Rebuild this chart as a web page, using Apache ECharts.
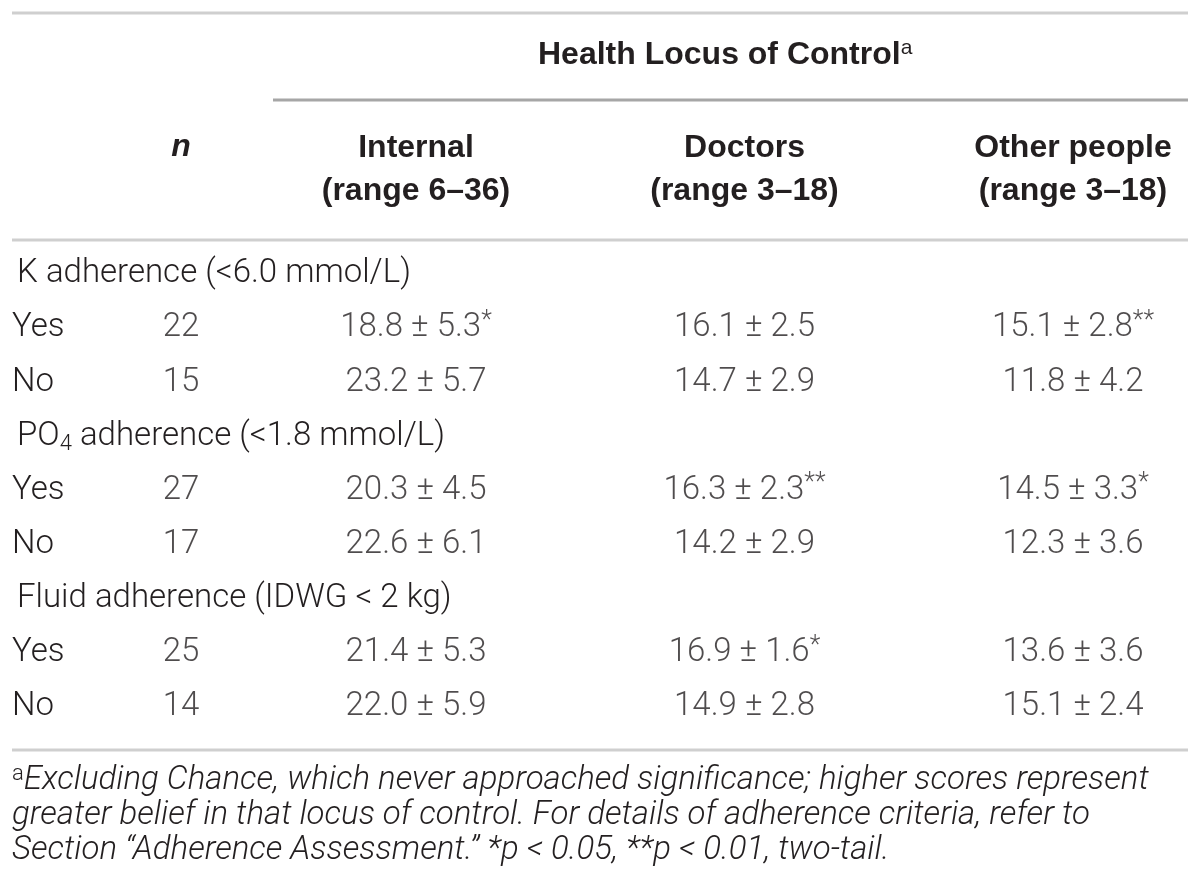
<!DOCTYPE html>
<html>
<head>
<meta charset="utf-8">
<title>Health Locus of Control by adherence</title>
<script src="https://cdn.jsdelivr.net/npm/echarts@6/dist/echarts.min.js"></script>
<style>
html,body{margin:0;padding:0;background:#fff;}
#chart{width:1200px;height:894px;}
</style>
</head>
<body>
<div id="chart"></div>
<script>
// row layout: section heading, then Yes / No for each adherence measure
var sections=['K adherence (<6.0 mmol/L)','PO4 adherence (<1.8 mmol/L)','Fluid adherence (IDWG < 2 kg)'];
var answers=['Yes','No'];
var columns=['Internal\n(range 6–36)','Doctors\n(range 3–18)','Other people\n(range 3–18)'];
// one entry per Yes/No row, in table order
var nCount=[22,15,27,17,25,14];
var internalMean=[18.8,23.2,20.3,22.6,21.4,22.0];
var internalSd=[5.3,5.7,4.5,6.1,5.3,5.9];
var internalSig=['*','','','','',''];
var doctorsMean=[16.1,14.7,16.3,14.2,16.9,14.9];
var doctorsSd=[2.5,2.9,2.3,2.9,1.6,2.8];
var doctorsSig=['','','**','','*',''];
var otherMean=[15.1,11.8,14.5,12.3,13.6,15.1];
var otherSd=[2.8,4.2,3.3,3.6,3.6,2.4];
var otherSig=['**','','*','','',''];

var BODY='Roboto';
var HEAD='Liberation Sans';
var INK='#231f20';

// y categories: 9 rows
var rowIds=[], rowLabels=[], dataRow=[];
for(var s=0;s<sections.length;s++){
    rowIds.push('sec'+s); rowLabels.push({sec:true,text:sections[s]});
    for(var a=0;a<answers.length;a++){
        rowIds.push('r'+s+a); rowLabels.push({sec:false,text:answers[a]});
        dataRow.push(rowIds.length-1);
    }
}

function cell(m,sd,sig){
    var t='{v|'+m.toFixed(1)+' ± '+sd.toFixed(1)+'}';
    if(sig) t+='{s|'+sig+'}';
    return t;
}
var nData=[], hlcData=[];
for(var i=0;i<dataRow.length;i++){
    nData.push({value:[0,dataRow[i]],txt:'{v|'+nCount[i]+'}'});
    hlcData.push({value:[0,dataRow[i]],txt:cell(internalMean[i],internalSd[i],internalSig[i])});
    hlcData.push({value:[1,dataRow[i]],txt:cell(doctorsMean[i],doctorsSd[i],doctorsSig[i])});
    hlcData.push({value:[2,dataRow[i]],txt:cell(otherMean[i],otherSd[i],otherSig[i])});
}

var cellRich={
    v:{fontFamily:BODY,fontWeight:300,fontSize:33,color:INK,lineHeight:38},
    s:{fontFamily:BODY,fontWeight:300,fontSize:25,color:INK,lineHeight:38,verticalAlign:'top',padding:[0,0,12,0]}
};
var cellLabel={show:true,position:'inside',formatter:function(p){return p.data.txt;},rich:cellRich};

var chart=echarts.init(document.getElementById('chart'),null,{renderer:'canvas'});
chart.setOption({
    animation:false,
    backgroundColor:'#fff',
    grid:[
        {left:130,width:102,top:274,bottom:187},
        {left:416,width:657,top:274,bottom:187}
    ],
    xAxis:[
        {type:'category',gridIndex:0,position:'top',data:['n'],boundaryGap:true,
         axisLine:{show:false},axisTick:{show:false},splitLine:{show:false},
         axisLabel:{margin:111,fontFamily:HEAD,fontWeight:'bold',fontStyle:'italic',fontSize:32,color:INK}},
        {type:'category',gridIndex:1,position:'top',data:columns,boundaryGap:false,
         axisLine:{show:false},axisTick:{show:false},splitLine:{show:false},
         axisLabel:{interval:0,margin:61,fontFamily:HEAD,fontWeight:'bold',fontSize:32,lineHeight:43,color:INK}}
    ],
    yAxis:[
        {type:'category',gridIndex:0,data:rowIds,inverse:true,boundaryGap:false,
         axisLine:{show:false},axisTick:{show:false},splitLine:{show:false},
         axisLabel:{interval:0,margin:118,align:'left',
            formatter:function(v,idx){
                var r=rowLabels[idx];
                if(!r.sec) return '{a|'+r.text+'}';
                var t=r.text;
                if(t.indexOf('PO4')===0) return '{sec|PO}{sub|4}{a|'+t.slice(3)+'}';
                return '{sec|'+t+'}';
            },
            rich:{
                a:{fontFamily:BODY,fontWeight:300,fontSize:33,color:INK},
                sec:{fontFamily:BODY,fontWeight:300,fontSize:33,color:INK,padding:[0,0,0,5]},
                sub:{fontFamily:BODY,fontWeight:300,fontSize:22,color:INK,verticalAlign:'bottom',padding:[16,0,0,0]}
            }}},
        {type:'category',gridIndex:1,data:rowIds,inverse:true,boundaryGap:false,show:false}
    ],
    title:{
        text:'{t|Health Locus of Control}{s|a}',left:533,top:33,
        textStyle:{rich:{
            t:{fontFamily:HEAD,fontWeight:'bold',fontSize:32,color:INK},
            s:{fontFamily:HEAD,fontWeight:'normal',fontSize:21,color:INK,verticalAlign:'top',padding:[0,0,14,0]}
        }}
    },
    graphic:[
        {type:'line',shape:{x1:12,y1:13,x2:1188,y2:13},style:{stroke:'#cfcfcf',lineWidth:3}},
        {type:'line',shape:{x1:273,y1:100,x2:1188,y2:100},style:{stroke:'#a6a6a6',lineWidth:3}},
        {type:'line',shape:{x1:12,y1:240,x2:1188,y2:240},style:{stroke:'#cfcfcf',lineWidth:3}},
        {type:'line',shape:{x1:12,y1:750,x2:1188,y2:750},style:{stroke:'#cfcfcf',lineWidth:3}},
        {type:'text',left:12,top:763,style:{
            text:'{s|a}{i|Excluding Chance, which never approached significance; higher scores represent}\n'+
                 '{i|greater belief in that locus of control. For details of adherence criteria, refer to}\n'+
                 '{i|Section “Adherence Assessment.” *p < 0.05, **p < 0.01, two-tail.}',
            rich:{
                i:{fontFamily:BODY,fontWeight:300,fontStyle:'italic',fontSize:33,lineHeight:35,fill:INK},
                s:{fontFamily:BODY,fontWeight:300,fontSize:22,lineHeight:35,fill:INK,verticalAlign:'top',padding:[0,0,12,0]}
            }}}
    ],
    series:[
        {type:'scatter',xAxisIndex:0,yAxisIndex:0,symbolSize:1,itemStyle:{color:'transparent'},
         label:cellLabel,data:nData},
        {type:'scatter',xAxisIndex:1,yAxisIndex:1,symbolSize:1,itemStyle:{color:'transparent'},
         label:cellLabel,data:hlcData}
    ]
});
</script>
</body>
</html>
